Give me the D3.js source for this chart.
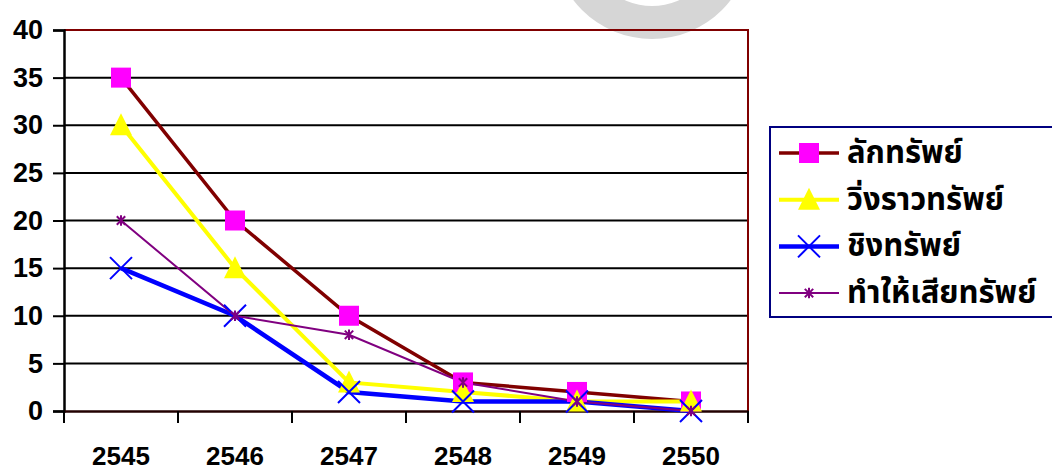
<!DOCTYPE html>
<html>
<head>
<meta charset="utf-8">
<script src="https://cdn.jsdelivr.net/npm/d3@7"></script>
<style>
  body { margin: 0; background: #fff; }
  svg text { font-family: Arial, "Liberation Sans", sans-serif; font-weight: bold; }
  .legend text { font-family: Tahoma, "Noto Sans Thai", "Noto Sans", sans-serif; }
</style>
</head>
<body>
<div id="chart"></div>
<script>
const years = ["2545", "2546", "2547", "2548", "2549", "2550"];
const seriesNames = ["ลักทรัพย์", "วิ่งราวทรัพย์", "ชิงทรัพย์", "ทำให้เสียทรัพย์"];
const theft = [35, 20, 10, 3, 2, 1];
const snatch = [30, 15, 3, 2, 1, 1];
const robbery = [15, 10, 2, 1, 1, 0];
const damage = [20, 10, 8, 3, 1, 0];
const yTicks = [0, 5, 10, 15, 20, 25, 30, 35, 40];

const series = [
  {name: seriesNames[0], values: theft, color: "#800000", width: 3.5, marker: "square", mcolor: "#ff00ff"},
  {name: seriesNames[1], values: snatch, color: "#ffff00", width: 4, marker: "triangle", mcolor: "#ffff00"},
  {name: seriesNames[2], values: robbery, color: "#0000ff", width: 4.5, marker: "x", mcolor: "#0000ff"},
  {name: seriesNames[3], values: damage, color: "#800080", width: 2, marker: "star", mcolor: "#800080"}
];

const W = 1052, H = 471;
const plot = {left: 64, right: 748, top: 30, bottom: 411};

const svg = d3.select("#chart").append("svg")
  .attr("width", W).attr("height", H);

// faint watermark ring at the top
svg.append("path")
  .attr("d", d3.arc()({innerRadius: 66, outerRadius: 99, startAngle: 0, endAngle: 2 * Math.PI}))
  .attr("transform", "translate(652,-60)")
  .attr("fill", "#d6d6d6");

const x = d3.scaleBand().domain(years).range([plot.left, plot.right]);
const y = d3.scaleLinear().domain([0, 40]).range([plot.bottom, plot.top]);

// gridlines
svg.append("g").selectAll("line")
  .data(yTicks.filter(d => d > 0 && d < 40))
  .enter().append("line")
  .attr("x1", plot.left).attr("x2", plot.right)
  .attr("y1", d => y(d)).attr("y2", d => y(d))
  .attr("stroke", "#000").attr("stroke-width", 2);

// plot border (top/right dark red)
svg.append("path")
  .attr("d", `M${plot.left},${plot.top}H${plot.right}V${plot.bottom}`)
  .attr("fill", "none").attr("stroke", "#800000").attr("stroke-width", 2);

// y axis
const yAxis = svg.append("g")
  .attr("transform", `translate(${plot.left},0)`)
  .call(d3.axisLeft(y).tickValues(yTicks).tickSize(11).tickPadding(10));
yAxis.select(".domain").attr("stroke-width", 2.5);
yAxis.selectAll(".tick line").attr("stroke-width", 2);
yAxis.selectAll("text").attr("font-size", 27).attr("fill", "#000");

// x axis
const xAxis = svg.append("g")
  .attr("transform", `translate(0,${plot.bottom})`)
  .call(d3.axisBottom(x).tickSize(0).tickPadding(36));
xAxis.select(".domain").attr("stroke", "#200").attr("stroke-width", 2.5);
xAxis.selectAll("text").attr("font-size", 26).attr("fill", "#000");
xAxis.selectAll(".bound").data(d3.range(years.length + 1)).enter().append("line")
  .attr("x1", i => plot.left + i * x.step()).attr("x2", i => plot.left + i * x.step())
  .attr("y1", 0).attr("y2", 12)
  .attr("stroke", "#000").attr("stroke-width", 2);

function drawMarker(g, type, color, size) {
  const s = size / 2;
  if (type === "square") {
    g.append("rect").attr("x", -s).attr("y", -s).attr("width", size).attr("height", size).attr("fill", color);
  } else if (type === "triangle") {
    g.append("path").attr("d", `M0,${-s - 2}L${s + 1},${s}L${-s - 1},${s}Z`).attr("fill", color);
  } else if (type === "x") {
    g.append("path").attr("d", `M${-s},${-s}L${s},${s}M${-s},${s}L${s},${-s}`)
      .attr("stroke", color).attr("stroke-width", 2);
  } else {
    const r = s * 0.6;
    g.append("path").attr("d", `M${-r},${-r}L${r},${r}M${-r},${r}L${r},${-r}M0,${-s * 0.75}V${s * 0.75}`)
      .attr("stroke", color).attr("stroke-width", 2);
  }
}

const line = d3.line().x((d, i) => x(years[i]) + x.bandwidth() / 2).y(d => y(d));
const sizes = {square: 20, triangle: 20, x: 22, star: 14};

series.forEach(s => {
  svg.append("path").datum(s.values)
    .attr("d", line)
    .attr("fill", "none")
    .attr("stroke", s.color)
    .attr("stroke-width", s.width);
});
series.forEach(s => {
  s.values.forEach((v, i) => {
    const g = svg.append("g")
      .attr("transform", `translate(${x(years[i]) + x.bandwidth() / 2},${y(v)})`);
    drawMarker(g, s.marker, s.mcolor, sizes[s.marker]);
  });
});

// legend
const legend = svg.append("g").attr("class", "legend");
legend.append("rect")
  .attr("x", 770).attr("y", 127).attr("width", 300).attr("height", 190)
  .attr("fill", "#fff").attr("stroke", "#000080").attr("stroke-width", 2);
series.forEach((s, i) => {
  const ly = 153 + i * 46.7;
  legend.append("line")
    .attr("x1", 779).attr("x2", 839).attr("y1", ly).attr("y2", ly)
    .attr("stroke", s.color).attr("stroke-width", s.width);
  const g = legend.append("g").attr("transform", `translate(809,${ly})`);
  drawMarker(g, s.marker, s.mcolor, sizes[s.marker]);
  legend.append("text")
    .attr("x", 847).attr("y", ly + 10)
    .attr("font-size", 31)
    .text(s.name);
});
</script>
</body>
</html>
